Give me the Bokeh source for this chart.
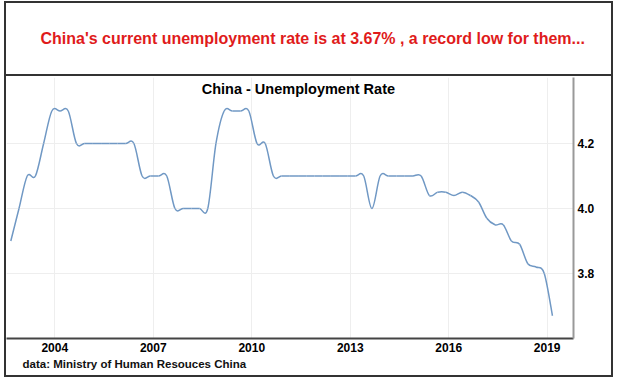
import math
import pandas as pd
from bokeh.plotting import figure
from bokeh.layouts import column
from bokeh.models import Range1d, FixedTicker, NumeralTickFormatter, Label, Title
from bokeh.embed import file_html
from bokeh.resources import INLINE

# ---------------- data ----------------
first_quarter = "2002Q3"
rate = [3.90, 4.00, 4.10, 4.10, 4.20, 4.30, 4.30, 4.30,
        4.20, 4.20, 4.20, 4.20, 4.20, 4.20, 4.20, 4.20,
        4.10, 4.10, 4.10, 4.10,
        4.00, 4.00, 4.00, 4.00, 4.00,
        4.20,
        4.30, 4.30, 4.30, 4.30,
        4.20, 4.20,
        4.10, 4.10, 4.10, 4.10, 4.10, 4.10, 4.10, 4.10, 4.10, 4.10, 4.10, 4.10,
        4.00,
        4.10, 4.10, 4.10, 4.10, 4.10, 4.10,
        4.04, 4.05, 4.05, 4.04, 4.05, 4.04, 4.02,
        3.97, 3.95, 3.95, 3.90, 3.89, 3.83, 3.82, 3.80, 3.67]
x_ticks = [2004, 2007, 2010, 2013, 2016, 2019]
y_ticks = [3.8, 4.0, 4.2]
headline = "China's current unemployment rate is at 3.67% , a record low for them..."
chart_title = "China - Unemployment Rate"
y_label = "percent"
source_note = "data: Ministry of Human Resouces China"

quarters = pd.period_range(first_quarter, periods=len(rate), freq="Q")
t = [q.year + (q.quarter - 1) / 4 + 0.16 for q in quarters]

FONT = "Liberation Sans"
BORDER = "2px solid #333333"
W = 605

# ---------------- headline box ----------------
top = figure(width=W, height=73, x_range=Range1d(0, 1), y_range=Range1d(0, 1),
             x_axis_type=None, y_axis_type=None,
             output_backend="svg", toolbar_location=None,
             min_border_left=0, min_border_right=38, min_border_top=0,
             min_border_bottom=0)
top.grid.visible = False
top.outline_line_color = None
top.background_fill_color = "white"
top.border_fill_color = "white"
top.add_layout(Title(text=headline, align="left", offset=34, standoff=48,
                     text_color="#e01b1b", text_font=FONT,
                     text_font_style="bold", text_font_size="16px"), "above")
top.styles = {"border-bottom": BORDER}

# ---------------- chart ----------------
p = figure(width=W, height=299, x_range=Range1d(2002.529, 2019.801),
           y_range=Range1d(3.6, 4.403), y_axis_location="right",
           output_backend="svg", toolbar_location=None,
           min_border_left=0, min_border_right=38, min_border_top=1,
           min_border_bottom=37)
p.outline_line_color = None
p.background_fill_color = "white"
p.border_fill_color = "white"

# smooth curve through the quarterly values (Catmull-Rom as cubic Beziers)
n = len(rate)
x0, y0, x1, y1, cx0, cy0, cx1, cy1 = [], [], [], [], [], [], [], []
for i in range(n - 1):
    a = max(i - 1, 0)
    d = min(i + 2, n - 1)
    x0.append(t[i]); y0.append(rate[i])
    x1.append(t[i + 1]); y1.append(rate[i + 1])
    cx0.append(t[i] + (t[i + 1] - t[a]) / 6)
    cy0.append(rate[i] + (rate[i + 1] - rate[a]) / 6)
    cx1.append(t[i + 1] - (t[d] - t[i]) / 6)
    cy1.append(rate[i + 1] - (rate[d] - rate[i]) / 6)
p.bezier(x0=x0, y0=y0, x1=x1, y1=y1, cx0=cx0, cy0=cy0, cx1=cx1, cy1=cy1,
         line_color="#7098c4", line_width=1.5)

xa = p.xaxis[0]
xa.ticker = FixedTicker(ticks=x_ticks)
xa.formatter = NumeralTickFormatter(format="0")
xa.axis_line_color = "#444444"
xa.axis_line_width = 2
xa.major_tick_line_color = None
xa.minor_tick_line_color = None
xa.major_tick_out = 0
xa.major_tick_in = 0
xa.major_label_standoff = 4
xa.major_label_text_font = FONT
xa.major_label_text_font_style = "bold"
xa.major_label_text_font_size = "12px"
xa.major_label_text_color = "black"

ya = p.yaxis[0]
ya.ticker = FixedTicker(ticks=y_ticks)
ya.formatter = NumeralTickFormatter(format="0.0")
ya.axis_line_color = "#999999"
ya.axis_line_width = 2
ya.major_tick_line_color = None
ya.minor_tick_line_color = None
ya.major_tick_out = 0
ya.major_tick_in = 0
ya.major_label_standoff = 4
ya.major_label_text_font = FONT
ya.major_label_text_font_style = "bold"
ya.major_label_text_font_size = "12px"
ya.major_label_text_color = "black"

p.xgrid.grid_line_color = "#eeeeee"
p.ygrid.grid_line_color = "#eeeeee"

p.add_layout(Label(x=2011.42, y=4.369, text=chart_title, text_align="center",
                   text_baseline="middle", text_font=FONT,
                   text_font_style="bold", text_font_size="14.5px",
                   text_color="black"))
p.add_layout(Label(x=2020.60, y=4.0, text=y_label, angle=math.pi / 2,
                   text_align="center", text_baseline="middle",
                   text_font=FONT, text_font_style="bold",
                   text_font_size="12.5px", text_color="black"))
p.add_layout(Title(text=source_note, align="left", offset=16, standoff=3,
                   text_font=FONT, text_font_style="bold",
                   text_font_size="11.5px", text_color="#111111"), "below")

layout = column(top, p, spacing=0,
                styles={"border": BORDER, "margin-left": "4px",
                        "margin-top": "1px", "background": "white"})

open("out.html", "w").write(file_html(layout, INLINE))
